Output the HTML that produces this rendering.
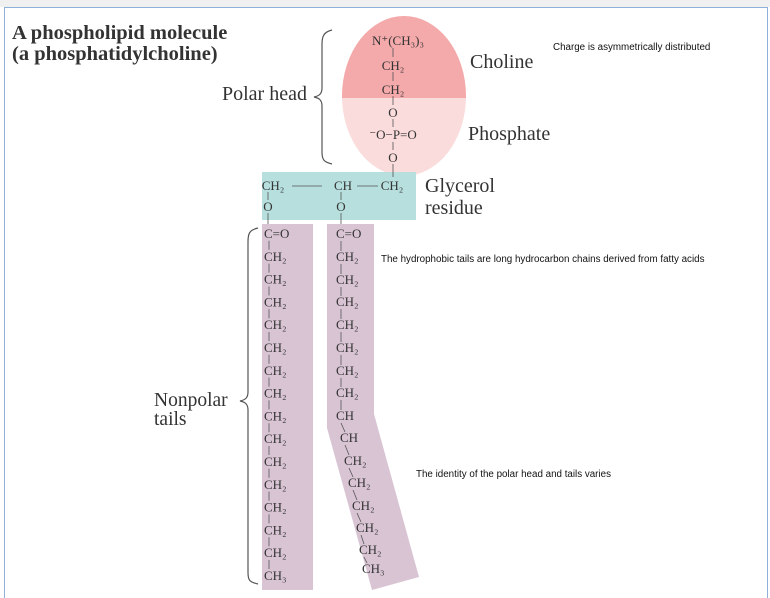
<!DOCTYPE html>
<html><head><meta charset="utf-8"><style>
body{margin:0;width:770px;height:598px;overflow:hidden;background:#fff}
svg{display:block}
.s{font-family:"Liberation Serif",serif;fill:#333}
.c{font-family:"Liberation Serif",serif;fill:#333;font-size:13px}
.n{font-family:"Liberation Sans",sans-serif;fill:#111;font-size:9.8px}
</style></head><body>
<svg width="770" height="598" viewBox="0 0 770 598">
<rect x="0" y="0" width="770" height="7" fill="#f0f0f0"/>
<rect x="4.5" y="7.5" width="763" height="600" fill="none" stroke="#8fb0d8" stroke-width="1"/>
<text class="s" x="12" y="39" font-size="20.5" font-weight="bold">A phospholipid molecule</text>
<text class="s" x="12" y="60" font-size="20.5" font-weight="bold">(a phosphatidylcholine)</text>
<text class="s" x="222" y="100" font-size="20">Polar head</text>
<path d="M332 30 C324 32 322 36 322 44 L322 88 C322 94 319 96 314 97 C319 98 322 100 322 106 L322 152 C322 160 324 162 332 164" fill="none" stroke="#555" stroke-width="1.2"/>
<path d="M258 228 C249 230 248 234 248 242 L248 392 C248 398 245 400 240 401 C245 402 248 404 248 410 L248 572 C248 580 249 582 258 584" fill="none" stroke="#555" stroke-width="1.2"/>
<text class="s" x="154" y="406" font-size="19.5">Nonpolar</text>
<text class="s" x="154" y="425" font-size="19.5">tails</text>
<clipPath id="top"><rect x="300" y="0" width="200" height="98"/></clipPath>
<clipPath id="bot"><rect x="300" y="98" width="200" height="100"/></clipPath>
<ellipse cx="404" cy="96" rx="62" ry="80" fill="#f4a9aa" clip-path="url(#top)"/>
<ellipse cx="404" cy="96" rx="62" ry="80" fill="#fbdcdc" clip-path="url(#bot)"/>
<rect x="262" y="172" width="154" height="48" fill="#b6dfdd"/>
<rect x="262" y="224" width="51" height="366" fill="#d9c4d4"/>
<polygon points="327,224 374,224 374,414 419,577 372,590 327,428" fill="#d9c4d4"/>
<g class="c" text-anchor="middle">
<text x="398" y="45">N⁺(CH₃)₃</text><text x="393" y="70">CH₂</text><text x="393" y="94">CH₂</text>
<text x="393" y="117">O</text><text x="393" y="139">⁻O−P=O</text><text x="393" y="162">O</text>
</g>
<g class="c" text-anchor="middle">
<text x="273" y="190">CH₂</text><text x="343" y="190">CH</text><text x="392" y="190">CH₂</text>
<text x="268" y="211">O</text><text x="341" y="211">O</text>
</g>
<g stroke="#555" stroke-width="0.8">
<line x1="393" y1="48" x2="393" y2="57"/><line x1="393" y1="72" x2="393" y2="81"/><line x1="393" y1="96" x2="393" y2="105"/>
<line x1="393" y1="119" x2="393" y2="127"/><line x1="393" y1="142" x2="393" y2="150"/><line x1="393" y1="164" x2="393" y2="177"/>
<line x1="292" y1="186" x2="322" y2="186"/><line x1="357" y1="186" x2="378" y2="186"/>
<line x1="268" y1="192" x2="268" y2="200"/><line x1="341" y1="192" x2="341" y2="200"/>
<line x1="268" y1="213" x2="268" y2="224"/><line x1="341" y1="213" x2="341" y2="224"/>
</g>
<text class="s" x="425" y="192" font-size="20">Glycerol</text>
<text class="s" x="425" y="214" font-size="20">residue</text>
<text class="s" x="470" y="68" font-size="20">Choline</text>
<text class="s" x="468" y="140" font-size="20">Phosphate</text>
<text class="n" x="553" y="50">Charge is asymmetrically distributed</text>
<text class="n" x="381" y="262">The hydrophobic tails are long hydrocarbon chains derived from fatty acids</text>
<text class="n" x="416" y="477">The identity of the polar head and tails varies</text>
<g id="lt"></g>
<g id="rt"></g>
</svg>
<script>
var ns="http://www.w3.org/2000/svg";
function t(g,x,y,s){var e=document.createElementNS(ns,"text");e.setAttribute("class","c");e.setAttribute("x",x);e.setAttribute("y",y);e.textContent=s;g.appendChild(e);}
function l(g,x1,y1,x2,y2){var e=document.createElementNS(ns,"line");e.setAttribute("x1",x1);e.setAttribute("y1",y1);e.setAttribute("x2",x2);e.setAttribute("y2",y2);e.setAttribute("stroke","#555");e.setAttribute("stroke-width","0.8");g.appendChild(e);}
var lt=document.getElementById("lt");
var left=["C=O"];for(var i=0;i<14;i++)left.push("CH₂");left.push("CH₃");
left.forEach(function(s,i){var y=238+i*22.8;t(lt,264,y,s);if(i>0)l(lt,269,y-20,269,y-11);});
var rt=document.getElementById("rt");
var right=[["C=O",336,238],["CH₂",336,261],["CH₂",336,284],["CH₂",336,306],["CH₂",336,329],["CH₂",336,352],["CH₂",336,375],["CH₂",336,397],["CH",336,420],["CH",340,442],["CH₂",344,465],["CH₂",348,487],["CH₂",352,510],["CH₂",356,532],["CH₂",359,554],["CH₃",362,573]];
right.forEach(function(r,i){t(rt,r[1],r[2],r[0]);if(i>0){var p=right[i-1];l(rt,p[1]+5,p[2]+3,r[1]+5,r[2]-10);}});
</script>
</body></html>
